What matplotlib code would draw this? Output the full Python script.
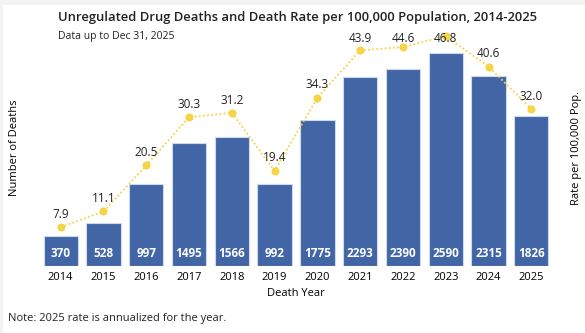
import matplotlib
matplotlib.use("Agg")
import matplotlib.pyplot as plt
from matplotlib.patches import Rectangle

years = ["2014", "2015", "2016", "2017", "2018", "2019", "2020", "2021", "2022", "2023", "2024", "2025"]
deaths = [370, 528, 997, 1495, 1566, 992, 1775, 2293, 2390, 2590, 2315, 1826]
rates = [7.9, 11.1, 20.5, 30.3, 31.2, 19.4, 34.3, 43.9, 44.6, 46.8, 40.6, 32.0]

plt.rcParams['font.family'] = ['Open Sans', 'DejaVu Sans']

W, H = 585, 333
fig = plt.figure(figsize=(W / 100, H / 100), dpi=100)
fig.patch.set_facecolor('#f3f3f3')
fig.add_artist(Rectangle((3 / W, 0), 1, 1 - 5 / H, transform=fig.transFigure,
                         facecolor='white', edgecolor='none', zorder=-10))

ax_left, ax_right = 35, 557
ax_top, ax_bot = 30, 266
ax = fig.add_axes([ax_left / W, 1 - ax_bot / H, (ax_right - ax_left) / W, (ax_bot - ax_top) / H])
ax.set_facecolor('none')
x = list(range(len(years)))
bar_color = '#4165a5'
ax.bar(x, deaths, width=0.8, color=bar_color, edgecolor='#cdd9ee', linewidth=0.8, zorder=2)
ax.set_xlim(-0.6, 11.6)
ax.set_ylim(0, 2870)
for xi, d in zip(x, deaths):
    ax.text(xi, 70, str(d), ha='center', va='bottom', color='white', fontsize=8.5,
            fontweight='bold', zorder=4)
ax.set_xticks(x)
ax.set_xticklabels(years, fontsize=8)
ax.tick_params(axis='x', length=0, pad=4)
ax.set_yticks([])
for s in ax.spines.values():
    s.set_visible(False)
ax.set_xlabel("Death Year", fontsize=8, labelpad=4)
ax.set_ylabel("Number of Deaths", fontsize=8, labelpad=11)

ax2 = ax.twinx()
rmax = 236 / 4.91
ax2.set_ylim(0, rmax)
ax2.plot(x, rates, linestyle=(0, (1, 1.3)), color='#f5d447', linewidth=1.3,
         marker='o', markersize=4.8, markerfacecolor='#f5d447', markeredgecolor='#f5d447', zorder=3)
for xi, r in zip(x, rates):
    ax2.text(xi, min(r + 2.6, rmax - 1.7), f"{r:.1f}", ha='center', va='center', fontsize=8.5,
             color='#222222', zorder=5)
ax2.set_yticks([])
for s in ax2.spines.values():
    s.set_visible(False)
ax2.set_ylabel("Rate per 100,000 Pop.", fontsize=8, labelpad=10)

fig.text(298 / W, 1 - 17 / H, "Unregulated Drug Deaths and Death Rate per 100,000 Population, 2014-2025",
         ha='center', va='center', fontsize=9.4, fontweight='semibold', color='#222222')
fig.text(58 / W, 1 - 37 / H, "Data up to Dec 31, 2025", ha='left', va='center', fontsize=7.5, color='#222222')
fig.text(8 / W, 1 - 318 / H, "Note: 2025 rate is annualized for the year.", ha='left', va='center',
         fontsize=8, color='#222222')

fig.savefig("out.png", dpi=100, facecolor=fig.get_facecolor())
